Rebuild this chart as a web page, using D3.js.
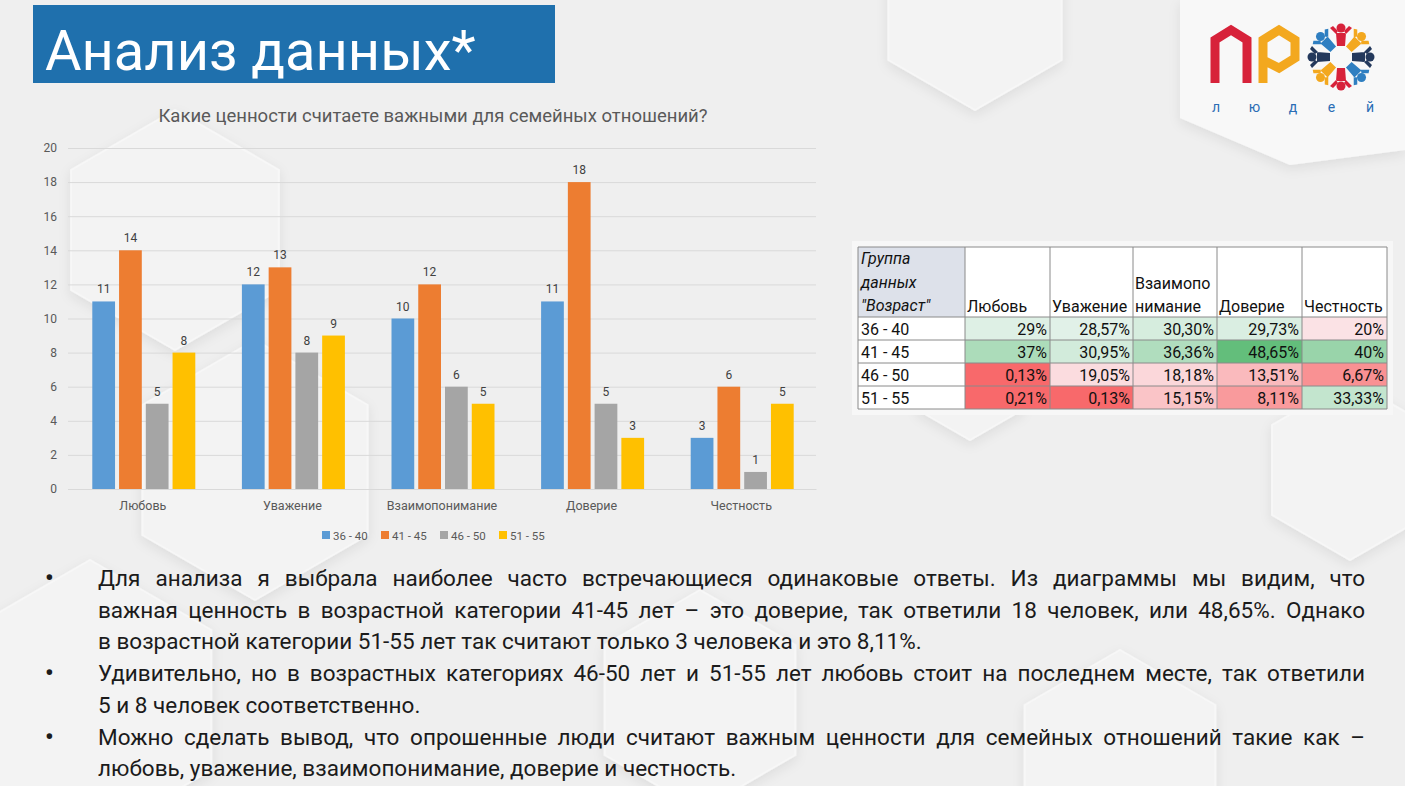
<!DOCTYPE html>
<html>
<head>
<meta charset="utf-8">
<script src="https://cdn.jsdelivr.net/npm/d3@7"></script>
<style>
  html, body { margin: 0; padding: 0; background: #efefef; overflow: hidden; }
  svg { display: block; }
</style>
</head>
<body>
<script>
// chart data
var categories = ["Любовь", "Уважение", "Взаимопонимание", "Доверие", "Честность"];
var seriesNames = ["36 - 40", "41 - 45", "46 - 50", "51 - 55"];
var s3640 = [11, 12, 10, 11, 3];
var s4145 = [14, 13, 12, 18, 6];
var s4650 = [5, 8, 6, 5, 1];
var s5155 = [8, 9, 5, 3, 5];
var yTicks = [0, 2, 4, 6, 8, 10, 12, 14, 16, 18, 20];
var seriesColors = ["#5b9bd5", "#ed7d31", "#a5a5a5", "#ffc000"];

// table data (percent per age group)
var tableHeaders = [["Любовь"], ["Уважение"], ["Взаимопо", "нимание"], ["Доверие"], ["Честность"]];
var ageGroups = ["36 - 40", "41 - 45", "46 - 50", "51 - 55"];
var p3640 = [29, 28.57, 30.30, 29.73, 20];
var p4145 = [37, 30.95, 36.36, 48.65, 40];
var p4650 = [0.13, 19.05, 18.18, 13.51, 6.67];
var p5155 = [0.21, 0.13, 15.15, 8.11, 33.33];

var bulletLines = [
  {t: "Для анализа я выбрала наиболее часто встречающиеся одинаковые ответы. Из диаграммы мы видим, что", j: true, b: true},
  {t: "важная ценность в возрастной категории 41-45 лет – это доверие, так ответили 18 человек, или 48,65%. Однако", j: true},
  {t: "в возрастной категории 51-55 лет так считают только 3 человека и это 8,11%.", j: false},
  {t: "Удивительно, но в возрастных категориях 46-50 лет и 51-55 лет любовь стоит на последнем месте, так ответили", j: true, b: true},
  {t: "5 и 8 человек соответственно.", j: false},
  {t: "Можно сделать вывод, что опрошенные люди считают важным ценности для семейных отношений такие как –", j: true, b: true},
  {t: "любовь, уважение, взаимопонимание, доверие  и честность.", j: false}
];

var W = 1405, H = 786;
var font = "Roboto, 'Noto Sans', sans-serif";

var svg = d3.select("body").append("svg")
  .attr("width", W)
  .attr("height", H);

// ---- background ----
var defs = svg.append("defs");
var sh = defs.append("filter").attr("id", "shadow")
  .attr("x", "-20%").attr("y", "-20%").attr("width", "140%").attr("height", "140%");
sh.append("feDropShadow").attr("dx", 0).attr("dy", 4).attr("stdDeviation", 6)
  .attr("flood-color", "#000").attr("flood-opacity", 0.08);

svg.append("rect").attr("width", W).attr("height", H).attr("fill", "#efefef");

function hexPath(cx, cy, r) {
  var pts = d3.range(6).map(function (i) {
    var a = Math.PI / 3 * i - Math.PI / 2;
    return [cx + r * Math.cos(a), cy + r * Math.sin(a)];
  });
  return "M" + pts.join("L") + "Z";
}
var hexes = [
  [975, 10, 100], [175, 230, 120], [255, 470, 130], [90, 700, 140],
  [700, 700, 110], [1350, 470, 90], [970, 380, 60], [1120, 760, 110]
];
svg.selectAll("path.hex").data(hexes).enter().append("path")
  .attr("class", "hex")
  .attr("d", function (d) { return hexPath(d[0], d[1], d[2]); })
  .attr("fill", "#f3f3f3")
  .attr("stroke", "#f7f7f7")
  .attr("stroke-width", 2)
  .attr("stroke-linejoin", "round")
  .attr("filter", "url(#shadow)");

// logo card
svg.append("path")
  .attr("d", "M1180,0 L1405,0 L1405,150 L1290,165 L1180,118 Z")
  .attr("fill", "#f8f8f8")
  .attr("filter", "url(#shadow)");

// ---- title ----
svg.append("rect").attr("x", 33).attr("y", 5).attr("width", 522).attr("height", 78)
  .attr("fill", "#1f70ad");
svg.append("text").attr("x", 45).attr("y", 70)
  .attr("font-family", font).attr("font-size", 56).attr("fill", "#fff")
  .text("Анализ данных*");

// ---- logo ----
var logo = svg.append("g");
logo.append("path").attr("d", "M1215,83 L1215,40 L1231,30 L1247,40 L1247,83")
  .attr("fill", "none").attr("stroke", "#d7223a").attr("stroke-width", 9);
logo.append("path").attr("d", "M1263,83 L1263,40 L1279,30 L1295,40 L1295,58 L1279,68 L1263,60")
  .attr("fill", "none").attr("stroke", "#f3a81f").attr("stroke-width", 9);
var ringColors = ["#d7223a", "#f3a81f", "#24395c", "#2f7fc1", "#d7223a", "#f3a81f", "#24395c", "#2f7fc1"];
var figs = logo.selectAll("g.fig").data(ringColors).enter().append("g")
  .attr("class", "fig")
  .attr("transform", function (d, i) { return "translate(1341,57) rotate(" + (i * 45) + ")"; });
figs.append("circle").attr("cx", 0).attr("cy", -29).attr("r", 4.5).attr("fill", function (d) { return d; });
figs.append("path")
  .attr("d", "M-5,-24 L5,-24 L4,-11 L-4,-11 Z M-5,-23 L-11,-29 L-8,-31 L-3,-26 Z M5,-23 L11,-29 L8,-31 L3,-26 Z")
  .attr("fill", function (d) { return d; });
var logoLetters = ["л", "ю", "д", "е", "й"];
logo.selectAll("text").data(logoLetters).enter().append("text")
  .attr("x", function (d, i) { return 1216 + i * 38.5; })
  .attr("y", 112)
  .attr("text-anchor", "middle")
  .attr("font-family", font).attr("font-size", 14).attr("fill", "#2a6db5")
  .text(function (d) { return d; });

// ---- bar chart ----
var allSeries = [s3640, s4145, s4650, s5155];
var x0 = d3.scaleBand().domain(categories).range([68, 816]);
var x1 = d3.scaleBand().domain(seriesNames).range([0, 103]).paddingInner(0.15);
var y = d3.scaleLinear().domain([0, 20]).range([489, 148]);

var chart = svg.append("g");
chart.append("text")
  .attr("x", 433).attr("y", 122).attr("text-anchor", "middle")
  .attr("font-family", font).attr("font-size", 18.5).attr("fill", "#595959")
  .text("Какие ценности считаете важными для семейных отношений?");

var yAxis = d3.axisLeft(y).tickValues(yTicks).tickSize(-(816 - 68)).tickPadding(11);
var gy = chart.append("g").attr("transform", "translate(68,0)").call(yAxis);
gy.select(".domain").remove();
gy.selectAll(".tick line").attr("stroke", "#d9d9d9");
gy.selectAll(".tick text").attr("font-family", font).attr("font-size", 12).attr("fill", "#595959");

var xAxis = d3.axisBottom(x0).tickSize(0).tickPadding(12);
var gx = chart.append("g").attr("transform", "translate(0,489)").call(xAxis);
gx.select(".domain").attr("stroke", "#d9d9d9");
gx.selectAll(".tick text").attr("font-family", font).attr("font-size", 12.5).attr("fill", "#595959");

var groups = chart.selectAll("g.cat").data(categories).enter().append("g")
  .attr("class", "cat")
  .attr("transform", function (c) { return "translate(" + (x0(c) + (x0.bandwidth() - 103) / 2 + 1) + ",0)"; });

var bars = groups.selectAll("g.bar").data(function (c, ci) {
  return seriesNames.map(function (s, si) { return {s: s, si: si, v: allSeries[si][ci]}; });
}).enter().append("g").attr("class", "bar");

bars.append("rect")
  .attr("x", function (d) { return x1(d.s); })
  .attr("y", function (d) { return y(d.v); })
  .attr("width", x1.bandwidth())
  .attr("height", function (d) { return y(0) - y(d.v); })
  .attr("fill", function (d) { return seriesColors[d.si]; });

bars.append("text")
  .attr("x", function (d) { return x1(d.s) + x1.bandwidth() / 2; })
  .attr("y", function (d) { return y(d.v) - 8; })
  .attr("text-anchor", "middle")
  .attr("font-family", font).attr("font-size", 12).attr("fill", "#404040")
  .text(function (d) { return d.v; });

var legend = chart.selectAll("g.leg").data(seriesNames).enter().append("g")
  .attr("class", "leg")
  .attr("transform", function (d, i) { return "translate(" + (322 + i * 59) + ",531)"; });
legend.append("rect").attr("width", 8).attr("height", 8)
  .attr("fill", function (d, i) { return seriesColors[i]; });
legend.append("text").attr("x", 11).attr("y", 8.5)
  .attr("font-family", font).attr("font-size", 11.5).attr("fill", "#595959")
  .text(function (d) { return d; });

// ---- table with colour scale ----
var tableRows = [p3640, p4145, p4650, p5155];
var flat = d3.merge(tableRows);
var colorScale = d3.scaleLinear()
  .domain([d3.min(flat), d3.median(flat), d3.max(flat)])
  .range(["#f8696b", "#fcfcff", "#63be7b"]);
function fmtPct(v) {
  return (Number.isInteger(v) ? String(v) : v.toFixed(2).replace(".", ",")) + "%";
}
var colX = [858, 965, 1050, 1133, 1217, 1302, 1387];
var rowY = [247, 317, 340, 363, 386, 409];
var tfs = 16;

var table = svg.append("g");
table.append("rect").attr("x", 852).attr("y", 241).attr("width", 541).attr("height", 174).attr("fill", "#f7f7f7");
table.append("rect").attr("x", colX[0]).attr("y", rowY[0])
  .attr("width", colX[6] - colX[0]).attr("height", rowY[5] - rowY[0]).attr("fill", "#fff");
table.append("rect").attr("x", colX[0]).attr("y", rowY[0])
  .attr("width", colX[1] - colX[0]).attr("height", rowY[1] - rowY[0]).attr("fill", "#dde1ea");

tableRows.forEach(function (row, ri) {
  table.selectAll("rect.c" + ri).data(row).enter().append("rect")
    .attr("class", "c" + ri)
    .attr("x", function (d, i) { return colX[i + 1]; })
    .attr("y", rowY[ri + 1])
    .attr("width", function (d, i) { return colX[i + 2] - colX[i + 1]; })
    .attr("height", rowY[ri + 2] - rowY[ri + 1])
    .attr("fill", function (d) { return colorScale(d); });
  table.selectAll("text.c" + ri).data(row).enter().append("text")
    .attr("class", "c" + ri)
    .attr("x", function (d, i) { return colX[i + 2] - 3; })
    .attr("y", rowY[ri + 2] - 5)
    .attr("text-anchor", "end")
    .attr("font-family", font).attr("font-size", tfs).attr("fill", "#111")
    .text(function (d) { return fmtPct(d); });
});
table.selectAll("text.age").data(ageGroups).enter().append("text")
  .attr("class", "age")
  .attr("x", colX[0] + 3)
  .attr("y", function (d, i) { return rowY[i + 2] - 5; })
  .attr("font-family", font).attr("font-size", tfs).attr("fill", "#111")
  .text(function (d) { return d; });

["Группа", "данных", "\"Возраст\""].forEach(function (t, i) {
  table.append("text").attr("x", colX[0] + 3).attr("y", 264 + i * 23.5)
    .attr("font-family", font).attr("font-size", tfs).attr("font-style", "italic").attr("fill", "#111")
    .text(t);
});
tableHeaders.forEach(function (lines, ci) {
  lines.forEach(function (t, li) {
    table.append("text").attr("x", colX[ci + 1] + 2)
      .attr("y", 312 - (lines.length - 1 - li) * 23.5)
      .attr("font-family", font).attr("font-size", tfs).attr("fill", "#111")
      .text(t);
  });
});

table.selectAll("line.v").data(colX).enter().append("line").attr("class", "v")
  .attr("x1", function (d) { return d; }).attr("x2", function (d) { return d; })
  .attr("y1", rowY[0]).attr("y2", rowY[5])
  .attr("stroke", "#8a8a8a").attr("stroke-width", 1);
table.selectAll("line.h").data(rowY).enter().append("line").attr("class", "h")
  .attr("x1", colX[0]).attr("x2", colX[6])
  .attr("y1", function (d) { return d; }).attr("y2", function (d) { return d; })
  .attr("stroke", "#8a8a8a").attr("stroke-width", 1);

// ---- bullet text ----
var textLeft = 98, textRight = 1365;
var body = svg.append("g");
var lineTexts = body.selectAll("text.ln").data(bulletLines).enter().append("text")
  .attr("class", "ln")
  .attr("x", textLeft)
  .attr("y", function (d, i) { return 586 + i * 31.7; })
  .attr("font-family", font).attr("font-size", 22.5).attr("fill", "#1b1b1b")
  .text(function (d) { return d.t; });
lineTexts.each(function (d) {
  if (!d.j) return;
  var w = this.getComputedTextLength();
  var spaces = d.t.split(" ").length - 1;
  d3.select(this).attr("word-spacing", (textRight - textLeft - w) / spaces);
});
body.selectAll("text.bul").data(bulletLines.filter(function (d) { return d.b; })).enter().append("text")
  .attr("class", "bul")
  .attr("x", 45)
  .attr("y", function (d) { return 586 + bulletLines.indexOf(d) * 31.7; })
  .attr("font-family", font).attr("font-size", 24).attr("font-weight", "bold").attr("fill", "#1b1b1b")
  .text("•");
</script>
</body>
</html>
